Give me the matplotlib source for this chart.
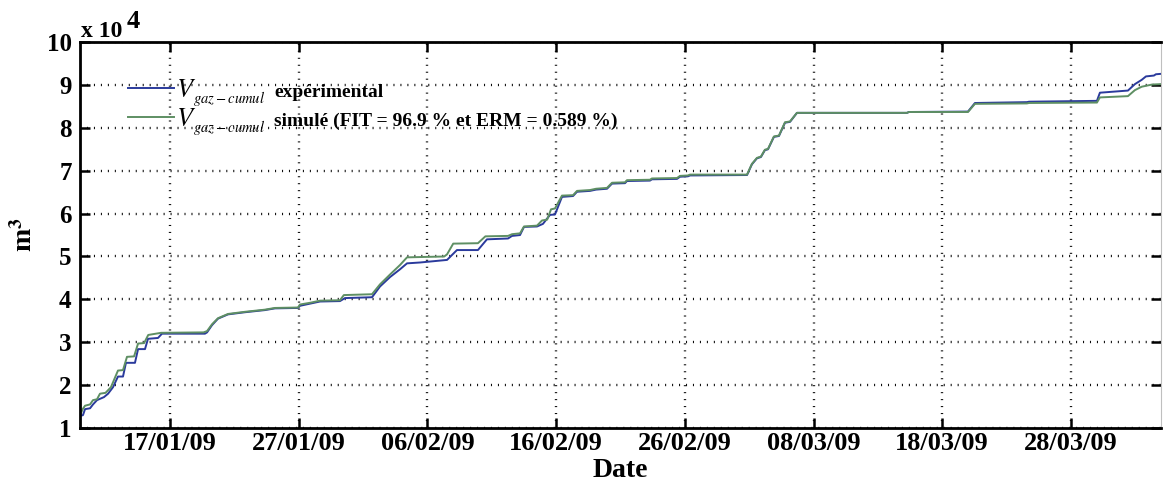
from datetime import datetime

import matplotlib
matplotlib.use("Agg")
import matplotlib.dates as mdates
import matplotlib.pyplot as plt
import matplotlib.transforms as mtransforms
import numpy as np

plt.rcParams["font.family"] = ["Liberation Serif", "DejaVu Serif"]
plt.rcParams["font.weight"] = "normal"
plt.rcParams["mathtext.fontset"] = "stix"

START = datetime(2009, 1, 10)
END = datetime(2009, 4, 4)

TICK_LABELS = ["17/01/09", "27/01/09", "06/02/09", "16/02/09",
               "26/02/09", "08/03/09", "18/03/09", "28/03/09"]

# cumulative gas volume in units of 1e4 m3, sampled in days after START
EXP_DAYS = [0.0, 0.23, 0.39, 0.78, 1.01, 1.32, 1.55, 1.86, 2.18, 2.56, 2.95, 3.34,
            3.57, 4.27, 4.51, 5.05, 5.28, 6.06, 6.37, 9.71, 9.87, 10.26, 10.72,
            11.5, 12.82, 14.37, 15.15, 16.94, 17.09, 17.87, 18.65, 20.2, 20.59,
            22.69, 23.31, 24.09, 24.86, 25.41, 26.42, 28.52, 29.29, 30.92, 31.62,
            33.26, 33.57, 34.19, 34.5, 35.51, 35.97, 36.52, 36.91, 37.45, 38.31,
            38.62, 39.63, 40.1, 40.95, 41.34, 42.35, 42.5, 44.29, 44.44, 46.39,
            46.62, 47.24, 47.4, 51.83, 52.21, 52.6, 52.91, 53.22, 53.46, 53.92,
            54.31, 54.78, 55.17, 55.71, 64.26, 64.41, 69.0, 69.54, 73.58, 73.74,
            79.02, 79.25, 81.43, 81.97, 82.5, 82.83, 83.45, 83.6, 84.0]
EXP_VOL = [1.28, 1.30, 1.44, 1.46, 1.55, 1.65, 1.68, 1.72, 1.80, 1.95, 2.20, 2.20,
           2.52, 2.52, 2.84, 2.84, 3.08, 3.10, 3.20, 3.20, 3.23, 3.40, 3.55,
           3.65, 3.70, 3.75, 3.79, 3.80, 3.85, 3.90, 3.95, 3.96, 4.03,
           4.05, 4.30, 4.52, 4.70, 4.84, 4.86, 4.92, 5.15, 5.15, 5.40,
           5.42, 5.48, 5.50, 5.69, 5.70, 5.76, 5.97, 5.98, 6.39, 6.41,
           6.51, 6.53, 6.56, 6.58, 6.70, 6.71, 6.76, 6.77, 6.80, 6.81,
           6.86, 6.87, 6.89, 6.90, 7.15, 7.29, 7.32, 7.48, 7.50, 7.79,
           7.81, 8.12, 8.14, 8.35, 8.35, 8.37, 8.38, 8.58, 8.60, 8.61,
           8.63, 8.82, 8.87, 9.02, 9.12, 9.20, 9.22, 9.25, 9.26]

SIM_DAYS = [0.0, 0.23, 0.39, 0.78, 1.01, 1.32, 1.55, 1.98, 2.4, 2.95, 3.34, 3.65,
            4.2, 4.51, 4.98, 5.3, 5.9, 6.3, 9.6, 9.87, 10.26, 10.72, 11.5, 12.82,
            14.37, 15.15, 16.94, 17.09, 17.87, 18.65, 20.2, 20.5, 22.69, 23.31,
            24.09, 24.86, 25.41, 28.3, 28.52, 29.0, 30.92, 31.5, 33.26, 33.57,
            34.19, 34.5, 35.51, 35.9, 36.3, 36.6, 36.91, 37.45, 38.31, 38.62,
            39.63, 40.1, 40.95, 41.34, 42.35, 42.5, 44.29, 44.44, 46.39, 46.62,
            47.24, 47.4, 51.83, 52.21, 52.6, 52.91, 53.22, 53.46, 53.92, 54.31,
            54.78, 55.17, 55.71, 64.26, 64.41, 69.0, 69.54, 73.58, 73.74, 79.02,
            79.25, 81.43, 81.97, 82.5, 83.3, 84.0]
SIM_VOL = [1.30, 1.45, 1.52, 1.55, 1.65, 1.67, 1.80, 1.82, 1.95, 2.34, 2.35, 2.66,
           2.67, 2.97, 2.98, 3.17, 3.20, 3.22, 3.23, 3.26, 3.42, 3.56, 3.66, 3.71,
           3.76, 3.80, 3.81, 3.88, 3.92, 3.97, 3.98, 4.10, 4.12, 4.35,
           4.58, 4.80, 4.98, 5.00, 5.05, 5.30, 5.31, 5.47, 5.48, 5.52,
           5.54, 5.70, 5.72, 5.84, 5.86, 6.10, 6.12, 6.42, 6.43, 6.53,
           6.55, 6.58, 6.60, 6.72, 6.73, 6.78, 6.79, 6.82, 6.83, 6.88,
           6.89, 6.91, 6.91, 7.16, 7.30, 7.33, 7.49, 7.51, 7.80, 7.82,
           8.13, 8.15, 8.35, 8.35, 8.37, 8.37, 8.56, 8.57, 8.58, 8.59,
           8.71, 8.74, 8.88, 8.96, 9.01, 9.02]

t0 = mdates.date2num(START)
exp_x = t0 + np.array(EXP_DAYS)
sim_x = t0 + np.array(SIM_DAYS)

fig = plt.figure(figsize=(11.63, 4.84), dpi=100)
ax = fig.add_axes([0.0688, 0.1157, 0.9295, 0.7973])

ax.plot(exp_x, EXP_VOL, color="#2a3a9c", lw=1.4)
ax.plot(sim_x, SIM_VOL, color="#5e8f63", lw=1.4)

ax.set_xlim(t0, mdates.date2num(END))
ax.set_ylim(1, 10)
ax.set_yticks(np.arange(1, 11))
ax.set_xticks([mdates.date2num(datetime.strptime(s, "%d/%m/%y")) for s in TICK_LABELS])
ax.set_xticklabels(TICK_LABELS)

ax.grid(True, color="0.05", lw=1.7, linestyle=(0, (0.45, 2.5)))
ax.tick_params(direction="in", length=7, width=1.8, top=True, right=True,
               labelsize=19)
ax.tick_params(axis="x", pad=3)
ax.tick_params(axis="y", pad=6, labelsize=18)
for lbl in ax.get_xticklabels() + ax.get_yticklabels():
    lbl.set_fontweight("bold")
for side in ("left", "bottom", "top"):
    ax.spines[side].set_linewidth(2.0)
ax.spines["right"].set_linewidth(0.8)
ax.spines["right"].set_color("0.75")

ax.set_xlabel("Date", fontsize=20, fontweight="bold", labelpad=2)
ax.set_ylabel(r"m$^{\mathbf{3}}$", fontsize=20, fontweight="bold", labelpad=6)

fig.text(81 / 1163, 1 - 37 / 484, "x 10", fontsize=17, fontweight="bold",
         va="baseline")
fig.text(127 / 1163, 1 - 28 / 484, "4", fontsize=19, fontweight="bold",
         va="baseline")

leg = ax.legend([r"$V$", r"$V$"], loc="upper left",
                bbox_to_anchor=(0.044, 0.905), frameon=False, fontsize=19,
                handlelength=1.75, handletextpad=0.08, borderpad=0,
                borderaxespad=0, labelspacing=0.2)

# subscript and plain bold tail of each legend entry, placed after the "V"
tails = ["expérimental", "simulé (FIT = 96.9 % et ERM = 0.589 %)"]
fig.canvas.draw()
renderer = fig.canvas.get_renderer()
px = mtransforms.IdentityTransform()
for txt, line, tail in zip(leg.get_texts(), leg.get_lines(), tails):
    tb = txt.get_window_extent(renderer)
    lb = line.get_window_extent(renderer)
    yc = 0.5 * (lb.y0 + lb.y1)
    sub = fig.text(tb.x1 - 3, yc - 15, r"$gaz-cumul$", fontsize=10.5,
                   va="baseline", transform=px)
    sb = sub.get_window_extent(renderer)
    fig.text(sb.x1 + 9, yc - 9, tail, fontsize=14, fontweight="bold",
             va="baseline", transform=px)

fig.savefig("out.png", dpi=100)
